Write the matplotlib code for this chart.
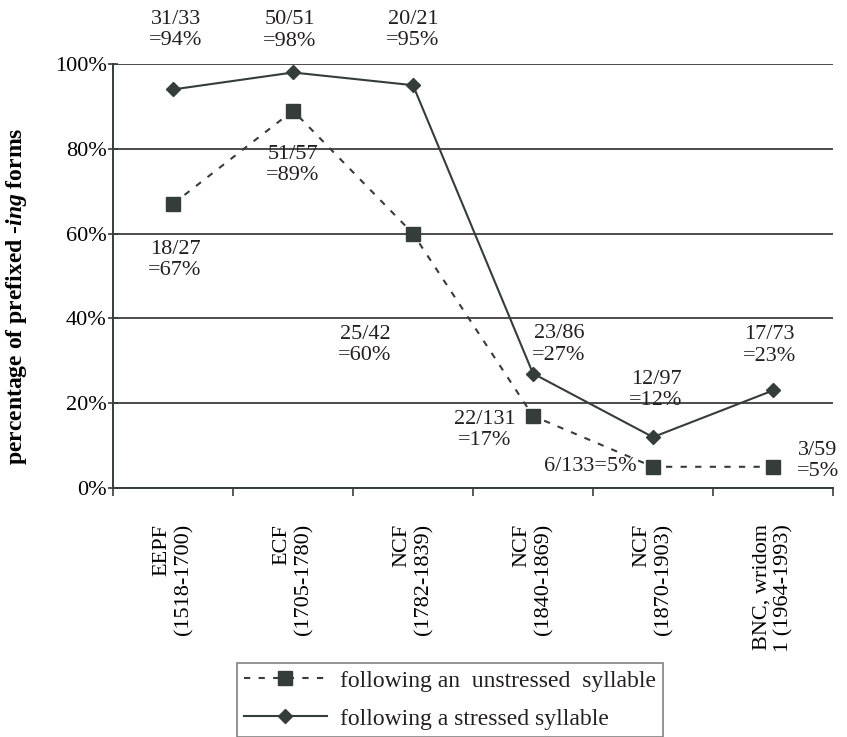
"""
plot.py
Prefixed -ing forms after unstressed vs stressed syllables, by corpus period.
"""

import matplotlib
matplotlib.use('Agg')
import matplotlib.pyplot as plt
from matplotlib.lines import Line2D
from matplotlib.ticker import FixedLocator, PercentFormatter

# ---------- Data ----------
periods = ['EEPF\n(1518-1700)', 'ECF\n(1705-1780)', 'NCF\n(1782-1839)',
           'NCF\n(1840-1869)', 'NCF\n(1870-1903)', 'BNC, wridom\n1 (1964-1993)']
unstressed_pct = [67, 89, 60, 17, 5, 5]
stressed_pct = [94, 98, 95, 27, 12, 23]
unstressed_labels = ['18/27\n=67%', '51/57\n=89%', '25/42\n=60%',
                     '22/131\n=17%', '6/133=5%', '3/59\n=5%']
stressed_labels = ['31/33\n=94%', '50/51\n=98%', '20/21\n=95%',
                   '23/86\n=27%', '12/97\n=12%', '17/73\n=23%']
legend_labels = ['following an  unstressed  syllable',
                 'following a stressed syllable']

# label offsets from their point, in pixels (dx, dy, ha)
unstressed_offsets = [(2, -56, 'center'), (0, -54, 'center'), (-48, -111, 'center'),
                      (-48, -14, 'center'), (-16, 0, 'right'), (45, 6, 'center')]
stressed_offsets = [(3, 59, 'center'), (-3, 42, 'center'), (0, 55, 'center'),
                    (26, 29, 'center'), (3, 47, 'center'), (-4, 45, 'center')]

# ---------- Style ----------
LINE_COLOR = '#353d3b'
TEXT_COLOR = '#231f20'
plt.rcParams['font.family'] = ['Liberation Serif', 'DejaVu Serif']
plt.rcParams['mathtext.fontset'] = 'custom'
plt.rcParams['mathtext.rm'] = 'Liberation Serif'
plt.rcParams['mathtext.it'] = 'Liberation Serif:italic'
plt.rcParams['mathtext.bf'] = 'Liberation Serif:bold'
plt.rcParams['mathtext.bfit'] = 'Liberation Serif:italic:bold'
plt.rcParams['text.color'] = TEXT_COLOR

W, H = 847, 737
fig = plt.figure(figsize=(W / 100, H / 100), dpi=100)
ax = fig.add_axes([113 / W, 1 - 488 / H, 720 / W, 424 / H])

x = list(range(len(periods)))
ax.plot(x, unstressed_pct, color=LINE_COLOR, lw=1.5, ls=(0, (3, 4)),
        marker='s', ms=10, zorder=3)
ax.plot(x, stressed_pct, color=LINE_COLOR, lw=1.5, ls='-',
        marker='D', ms=7.5, zorder=3)

# data labels
for vals, labs, offs in [(unstressed_pct, unstressed_labels, unstressed_offsets),
                         (stressed_pct, stressed_labels, stressed_offsets)]:
    for i, (v, t, (dx, dy, ha)) in enumerate(zip(vals, labs, offs)):
        ax.annotate(t, xy=(i, v), xytext=(dx, dy), textcoords='offset pixels',
                    ha=ha, va='center', fontsize=16, linespacing=1.15,
                    annotation_clip=False)

# ---------- Axes ----------
ax.set_xlim(-0.5, len(periods) - 0.5)
ax.set_ylim(0, 100)
ax.yaxis.set_major_locator(FixedLocator([0, 20, 40, 60, 80, 100]))
ax.yaxis.set_major_formatter(PercentFormatter(decimals=0))
ax.grid(axis='y', color='#1a1a1a', lw=1.1)
ax.set_axisbelow(True)

# category boundaries as major ticks, names on minor ticks
ax.xaxis.set_major_locator(FixedLocator([i - 0.5 for i in range(len(periods) + 1)]))
ax.xaxis.set_minor_locator(FixedLocator(x))
ax.set_xticklabels([])
ax.set_xticklabels(periods, minor=True, rotation=90, fontsize=16,
                   va='top', ha='center', multialignment='right', linespacing=1.2)
ax.tick_params(axis='x', which='major', direction='out', length=6, width=1.2,
               color=LINE_COLOR)
ax.tick_params(axis='x', which='minor', length=0, pad=26)
ax.tick_params(axis='y', direction='inout', length=7, width=1.2, color=LINE_COLOR,
               labelsize=16, pad=1)

for side in ['top', 'right']:
    ax.spines[side].set_visible(False)
for side in ['left', 'bottom']:
    ax.spines[side].set_color(LINE_COLOR)
    ax.spines[side].set_linewidth(1.4)

ax.set_ylabel(r'percentage of prefixed -$\mathbfit{ing}$ forms',
              fontsize=17, fontweight='bold')
ax.yaxis.set_label_coords(-0.117, 0.453)

# ---------- Legend ----------
handles = [Line2D([], [], color=LINE_COLOR, lw=1.5, ls=(0, (3, 4)), marker='s', ms=10),
           Line2D([], [], color=LINE_COLOR, lw=1.5, ls='-', marker='D', ms=7.5)]
leg = fig.legend(handles, legend_labels, loc='upper left',
                 bbox_to_anchor=(237 / W, 1 - 663 / H), fontsize=17,
                 frameon=True, fancybox=False, handlelength=3.5,
                 labelspacing=0.7, borderpad=0.3, handletextpad=0.55,
                 borderaxespad=0)
leg.get_frame().set_edgecolor('#555555')
leg.get_frame().set_linewidth(1.1)

fig.savefig('out.png', dpi=100)
